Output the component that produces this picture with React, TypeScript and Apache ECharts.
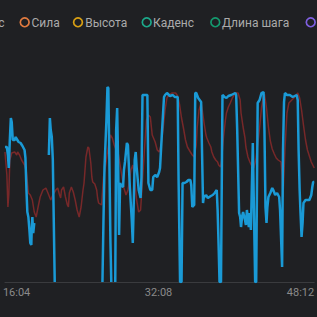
import React, { useEffect, useRef } from "react";
import * as echarts from "echarts";

const legendNames = ["Темп", "Пульс", "Сила", "Высота", "Каденс", "Длина шага", "Мощность"];
const legendColors = ["#1a9ad6", "#772829", "#e07a3f", "#d9a014", "#1ca88a", "#14996e", "#7f5fe0"];
const tickSeconds = [964, 1928, 2892];
const xMin = 885;
const xMax = 2985;

// Пульс (red) — [seconds, value]
const pulseData: [number, number][] = [
  [885, 130], [898, 107], [905, 75], [911, 87], [918, 122], [931, 129], [951, 130], [965, 127],
  [971, 130], [984, 127], [998, 122], [1018, 117], [1031, 110], [1044, 89], [1057, 87], [1071, 82],
  [1084, 70], [1097, 65], [1110, 75], [1124, 85], [1143, 92], [1163, 94], [1177, 89], [1196, 82],
  [1210, 87], [1230, 92], [1243, 94], [1256, 87], [1263, 84], [1269, 92], [1283, 95], [1296, 85],
  [1309, 77], [1316, 75], [1322, 89], [1336, 95], [1349, 90], [1362, 82], [1375, 72], [1389, 65],
  [1402, 75], [1415, 92], [1422, 99], [1435, 125], [1448, 135], [1455, 134], [1468, 119], [1475, 105],
  [1481, 100], [1495, 98], [1508, 92], [1514, 84], [1521, 79], [1541, 77], [1554, 105], [1567, 115],
  [1581, 130], [1601, 147], [1614, 144], [1627, 137], [1640, 132], [1654, 129], [1667, 117], [1680, 105],
  [1693, 94], [1707, 87], [1720, 92], [1726, 97], [1740, 112], [1753, 117], [1766, 102], [1779, 82],
  [1793, 70], [1806, 72], [1819, 102], [1832, 132], [1846, 162], [1859, 167], [1872, 165], [1885, 147],
  [1905, 140], [1919, 132], [1932, 130], [1945, 137], [1958, 152], [1972, 172], [1985, 184], [1998, 187],
  [2018, 189], [2044, 189], [2058, 186], [2071, 177], [2084, 164], [2097, 154], [2111, 142], [2124, 135],
  [2144, 130], [2157, 127], [2170, 125], [2184, 137], [2190, 154], [2203, 172], [2217, 179], [2223, 174],
  [2237, 159], [2250, 147], [2256, 144], [2270, 139], [2283, 135], [2290, 130], [2303, 125], [2316, 122],
  [2329, 120], [2336, 117], [2349, 115], [2356, 122], [2369, 145], [2382, 162], [2389, 169], [2402, 175],
  [2415, 179], [2429, 184], [2449, 189], [2468, 189], [2482, 182], [2488, 169], [2502, 155], [2515, 144],
  [2521, 135], [2535, 125], [2548, 120], [2561, 116], [2574, 114], [2588, 122], [2601, 137], [2614, 154],
  [2627, 174], [2641, 186], [2647, 188], [2661, 174], [2674, 155], [2687, 141], [2700, 133], [2714, 128],
  [2727, 124], [2740, 122], [2760, 120], [2767, 107], [2773, 85], [2786, 132], [2800, 169], [2813, 179],
  [2833, 182], [2853, 185], [2873, 189], [2886, 184], [2899, 172], [2912, 157], [2926, 142], [2939, 132],
  [2952, 126], [2965, 120], [2985, 114],
];

// Темп (blue) — [seconds, value]; null = no data
const paceData: [number, number | null][] = [
  [885, 135], [898, 135], [905, 127], [911, 114], [918, 142], [925, 164], [931, 160], [938, 142],
  [951, 142], [958, 145], [965, 143], [978, 140], [991, 139], [1004, 136], [1018, 132], [1024, 124],
  [1031, 92], [1037, 70], [1044, 65], [1051, 52], [1057, 39], [1064, 37], [1067, 54], [1071, 65],
  [1077, 49], [1084, 59], [1100, null],
  [1183, 127], [1190, 164], [1196, 152], [1203, 145], [1210, 122], [1223, 0], [1240, null],
  [1547, 0], [1554, 62], [1561, 115], [1574, 162], [1581, 195], [1587, 194], [1594, 122], [1601, 42],
  [1607, 0], [1615, null],
  [1634, 0], [1640, 152], [1647, 174], [1654, 112], [1660, 47], [1667, 99], [1673, 97], [1687, 95],
  [1693, 112], [1700, 120], [1713, 139], [1720, 137], [1733, 95], [1746, 62], [1753, 39], [1760, 82],
  [1766, 122], [1773, 130], [1779, 115], [1793, 92], [1806, 84], [1812, 105], [1819, 187], [1852, 187],
  [1859, 99], [1872, 92], [1885, 92], [1892, 105], [1905, 107], [1919, 105], [1932, 110], [1938, 114],
  [1952, 152], [1965, 185], [1972, 187], [1985, 189], [2005, 186], [2025, 187], [2038, 185], [2058, 185],
  [2064, 102], [2074, 0], [2084, 0], [2091, 99], [2104, 99], [2117, 100], [2131, 102], [2144, 102],
  [2150, 97], [2157, 75], [2170, 77], [2177, 189], [2184, 189], [2197, 184], [2217, 180], [2223, 132],
  [2230, 79], [2237, 87], [2243, 85], [2250, 87], [2263, 84], [2283, 86], [2296, 87], [2309, 89],
  [2323, 92], [2329, 72], [2336, 35], [2342, 0], [2352, 0], [2362, 187], [2376, 185], [2389, 184],
  [2402, 186], [2422, 187], [2449, 189], [2455, 187], [2462, 152], [2475, 69], [2482, 65], [2488, 55],
  [2495, 65], [2502, 70], [2515, 62], [2521, 57], [2528, 72], [2541, 55], [2548, 69], [2555, 52],
  [2568, 139], [2584, 0], [2591, 0], [2601, 179], [2614, 182], [2627, 189], [2641, 190], [2647, 152],
  [2654, 75], [2661, 59], [2667, 75], [2674, 85], [2687, 89], [2700, 94], [2707, 92], [2720, 87],
  [2733, 89], [2747, 85], [2753, 72], [2767, 15], [2773, 132], [2780, 180], [2786, 189], [2800, 187],
  [2819, 187], [2839, 185], [2866, 187], [2873, 182], [2879, 132], [2886, 92], [2892, 69], [2899, 45],
  [2906, 59], [2912, 79], [2926, 82], [2932, 82], [2952, 82], [2965, 87], [2972, 95], [2978, 100],
  [2985, 100],
];

const BG = "#1f2023";
// legend layout (pixels): icon centres and text anchors
const legendIconX = [-96, -36, 24.7, 78, 146.7, 215.3, 310.7];
const legendTextX = [-89.5, 4.5, 31.5, 85.3, 153, 222, 317.2];
const legendTextAlign = ["left", "right", "left", "left", "left", "left", "left"];
const LEGEND_Y = 22.3;

function fmt(sec: number): string {
  const m = Math.floor(sec / 60);
  const s = Math.round(sec % 60);
  return `${m}:${s < 10 ? "0" + s : s}`;
}

export default function App() {
  const ref = useRef<HTMLDivElement>(null);
  useEffect(() => {
    if (!ref.current) return;
    const chart = echarts.init(ref.current, null, { renderer: "svg" });
    const dataByName: Record<string, any[]> = { "Темп": paceData, "Пульс": pulseData };
    const drawOrder = ["Пульс", "Темп"];
    const series = drawOrder.map((name) => {
      const i = legendNames.indexOf(name);
      const color = legendColors[i];
      return {
        name,
        type: "line",
        data: dataByName[name] || [],
        showSymbol: false,
        symbol: "none",
        connectNulls: false,
        lineStyle: { color, width: name === "Темп" ? 2.5 : 1.5 },
        itemStyle: { color },
        z: name === "Темп" ? 3 : 2,
      };
    });
    const graphic: any[] = [];
    legendNames.forEach((name, i) => {
      graphic.push({
        type: "circle",
        silent: true,
        shape: { cx: legendIconX[i], cy: LEGEND_Y, r: 4.4 },
        style: { fill: BG, stroke: legendColors[i], lineWidth: 1.7 },
      });
      graphic.push({
        type: "text",
        silent: true,
        x: legendTextX[i],
        y: LEGEND_Y + 0.6,
        style: {
          text: name,
          fill: "#ababab",
          fontSize: 12,
          fontFamily: "Roboto",
          align: legendTextAlign[i],
          verticalAlign: "middle",
        },
      });
    });
    chart.setOption({
      animation: false,
      backgroundColor: BG,
      graphic,
      grid: { left: 0, right: 0, top: 32, bottom: 35 },
      xAxis: {
        type: "value",
        min: xMin,
        max: xMax,
        axisLine: { show: true, lineStyle: { color: "#3a3b3e", width: 1 } },
        axisTick: { show: false },
        splitLine: { show: false },
        axisLabel: {
          customValues: tickSeconds,
          formatter: (v: number) => fmt(v),
          color: "#8a8a8a",
          fontSize: 11,
          fontFamily: "Roboto",
          margin: 5,
        },
      },
      yAxis: {
        type: "value",
        min: 0,
        max: 250,
        show: false,
        splitLine: { show: false },
      },
      series,
    });
    return () => chart.dispose();
  }, []);
  return (
    <div
      ref={ref}
      style={{ position: "fixed", left: 0, top: 0, width: 317, height: 317 }}
    />
  );
}
